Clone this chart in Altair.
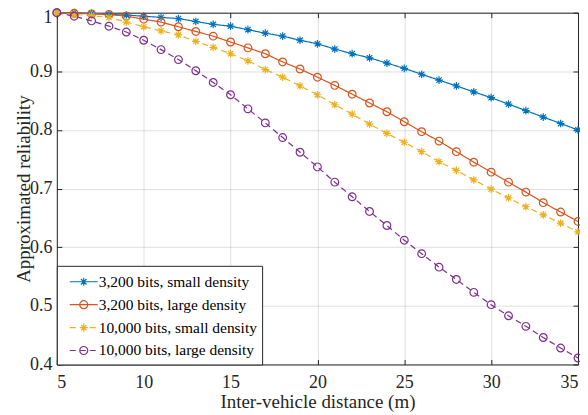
import altair as alt
import pandas as pd

x_vals = list(range(5, 36))
series_names = [
    "3,200 bits, small density",
    "3,200 bits, large density",
    "10,000 bits, small density",
    "10,000 bits, large density",
]
s_3200_small = [1.0, 1.0, 0.999, 0.997, 0.996, 0.994, 0.992, 0.990, 0.985, 0.980,
                0.977, 0.971, 0.965, 0.960, 0.953, 0.947, 0.938, 0.930, 0.923, 0.914,
                0.905, 0.895, 0.885, 0.875, 0.865, 0.855, 0.844, 0.833, 0.822, 0.811, 0.800]
s_3200_large = [1.0, 0.999, 0.998, 0.997, 0.994, 0.989, 0.984, 0.976, 0.968, 0.960,
                0.950, 0.940, 0.930, 0.916, 0.904, 0.890, 0.876, 0.861, 0.846, 0.831,
                0.814, 0.797, 0.781, 0.763, 0.745, 0.728, 0.711, 0.694, 0.676, 0.660, 0.644]
s_10000_small = [1.0, 0.997, 0.995, 0.992, 0.984, 0.976, 0.969, 0.962, 0.951, 0.941,
                 0.930, 0.918, 0.903, 0.890, 0.875, 0.860, 0.843, 0.827, 0.810, 0.794,
                 0.779, 0.763, 0.746, 0.731, 0.715, 0.699, 0.684, 0.669, 0.655, 0.641, 0.626]
s_10000_large = [1.0, 0.994, 0.986, 0.977, 0.967, 0.953, 0.937, 0.920, 0.901, 0.881,
                 0.860, 0.836, 0.812, 0.787, 0.762, 0.737, 0.711, 0.686, 0.661, 0.637,
                 0.612, 0.589, 0.566, 0.545, 0.523, 0.502, 0.483, 0.465, 0.446, 0.428, 0.411]
x_ticks = [5, 10, 15, 20, 25, 30, 35]
y_ticks = [0.4, 0.5, 0.6, 0.7, 0.8, 0.9, 1.0]
colors = ["#0072BD", "#D95319", "#EDB120", "#7E2F8E"]

rows = []
for name, ys in zip(series_names, [s_3200_small, s_3200_large, s_10000_small, s_10000_large]):
    for xv, yv in zip(x_vals, ys):
        rows.append({"x": xv, "y": yv, "series": name})
df = pd.DataFrame(rows)

FONT = "Liberation Serif"
INK = "#262626"

ast = "M0,-1V1M-1,0H1M-0.7,-0.7L0.7,0.7M-0.7,0.7L0.7,-0.7"
leg_ast = "M0,-0.4V0.4M-0.4,0H0.4M-0.28,-0.28L0.28,0.28M-0.28,0.28L0.28,-0.28"
leg_circ = "M0.4,0A0.4,0.4,0,1,1,-0.4,0A0.4,0.4,0,1,1,0.4,0"
solid = "M-1.4,0H1.4"
dashed = "M-1.4,0H-0.8M-0.4,0H0.2M0.6,0H1.2"
legend_paths = [solid + leg_ast, solid + leg_circ, dashed + leg_ast, dashed + leg_circ]

xs = alt.Scale(domain=[5, 35], nice=False, zero=False)
ysc = alt.Scale(domain=[0.4, 1.0], nice=False, zero=False)
color_scale = alt.Scale(domain=series_names, range=colors)


def tick_axis(orient, values):
    return alt.Axis(orient=orient, values=values, offset=-5, tickSize=5, ticks=True,
                    tickColor=INK, tickWidth=1, domain=False, labels=False,
                    grid=False, title=None)


main_x = alt.Axis(values=x_ticks, title="Inter-vehicle distance (m)", grid=True,
                  ticks=False, tickSize=0, domain=False, labelPadding=9,
                  titlePadding=1, labelFont=FONT, titleFont=FONT)
main_y = alt.Axis(values=y_ticks, title="Approximated reliability", grid=True,
                  ticks=False, tickSize=0, domain=False, labelPadding=5, format="~g",
                  labelFont=FONT, titleFont=FONT,
                  titleX=-33, titleY=176.5, titleBaseline="middle", titleAngle=270,
                  labelOffset={"condition": {"test": "datum.value >= 1", "value": 5},
                               "value": 0})

base = alt.Chart(df)

lines = base.mark_line(strokeWidth=1.2).encode(
    x=alt.X("x:Q", scale=xs, axis=main_x),
    y=alt.Y("y:Q", scale=ysc, axis=main_y),
    color=alt.Color("series:N", scale=color_scale, legend=None),
    strokeDash=alt.StrokeDash(
        "series:N",
        scale=alt.Scale(domain=series_names, range=[[1, 0], [1, 0], [6, 4], [6, 4]]),
        legend=None,
    ),
)

points = base.mark_point(filled=False, strokeWidth=1.2, size=60, opacity=1).encode(
    x=alt.X("x:Q", scale=xs, axis=tick_axis("bottom", x_ticks)),
    y=alt.Y("y:Q", scale=ysc, axis=tick_axis("left", y_ticks)),
    color=alt.Color("series:N", scale=color_scale, legend=None),
    shape=alt.Shape("series:N",
                    scale=alt.Scale(domain=series_names, range=[ast, "circle", ast, "circle"]),
                    legend=None),
)

leg = alt.Legend(
    title=None, orient="bottom-left", offset=0, padding=5,
    strokeColor=INK, fillColor="white", cornerRadius=0,
    labelFont=FONT, labelFontSize=15.5, labelColor="black", labelLimit=300,
    symbolSize=400, symbolStrokeWidth=1.2, symbolOffset=11,
    labelOffset=4, rowPadding=3,
)

legend_layer = base.transform_filter("datum.x < 0").mark_point(
    filled=False, strokeWidth=1.2, size=400, opacity=1
).encode(
    x=alt.X("x:Q", scale=xs, axis=tick_axis("top", x_ticks)),
    y=alt.Y("y:Q", scale=ysc, axis=tick_axis("right", y_ticks)),
    color=alt.Color("series:N", scale=color_scale, legend=leg),
    shape=alt.Shape("series:N", scale=alt.Scale(domain=series_names, range=legend_paths),
                    legend=leg),
)

chart = (
    alt.layer(lines, points, legend_layer)
    .resolve_scale(color="independent", shape="independent", strokeDash="independent")
    .resolve_axis(x="independent", y="independent")
    .properties(
        width=523, height=353,
        padding={"left": 49, "top": 4, "right": 2, "bottom": 49},
        autosize=alt.AutoSizeParams(type="none"),
        background="white",
    )
    .configure(font=FONT)
    .configure_view(stroke=INK, strokeWidth=1)
    .configure_axis(
        labelFont=FONT, labelFontSize=18, labelColor=INK,
        titleFont=FONT, titleFontSize=19, titleColor=INK, titleFontWeight="normal",
        gridColor=INK, gridOpacity=0.15, gridWidth=1,
    )
    .configure_legend(labelFont=FONT)
)

chart.save("out.html", embed_options={"renderer": "svg", "actions": False})
